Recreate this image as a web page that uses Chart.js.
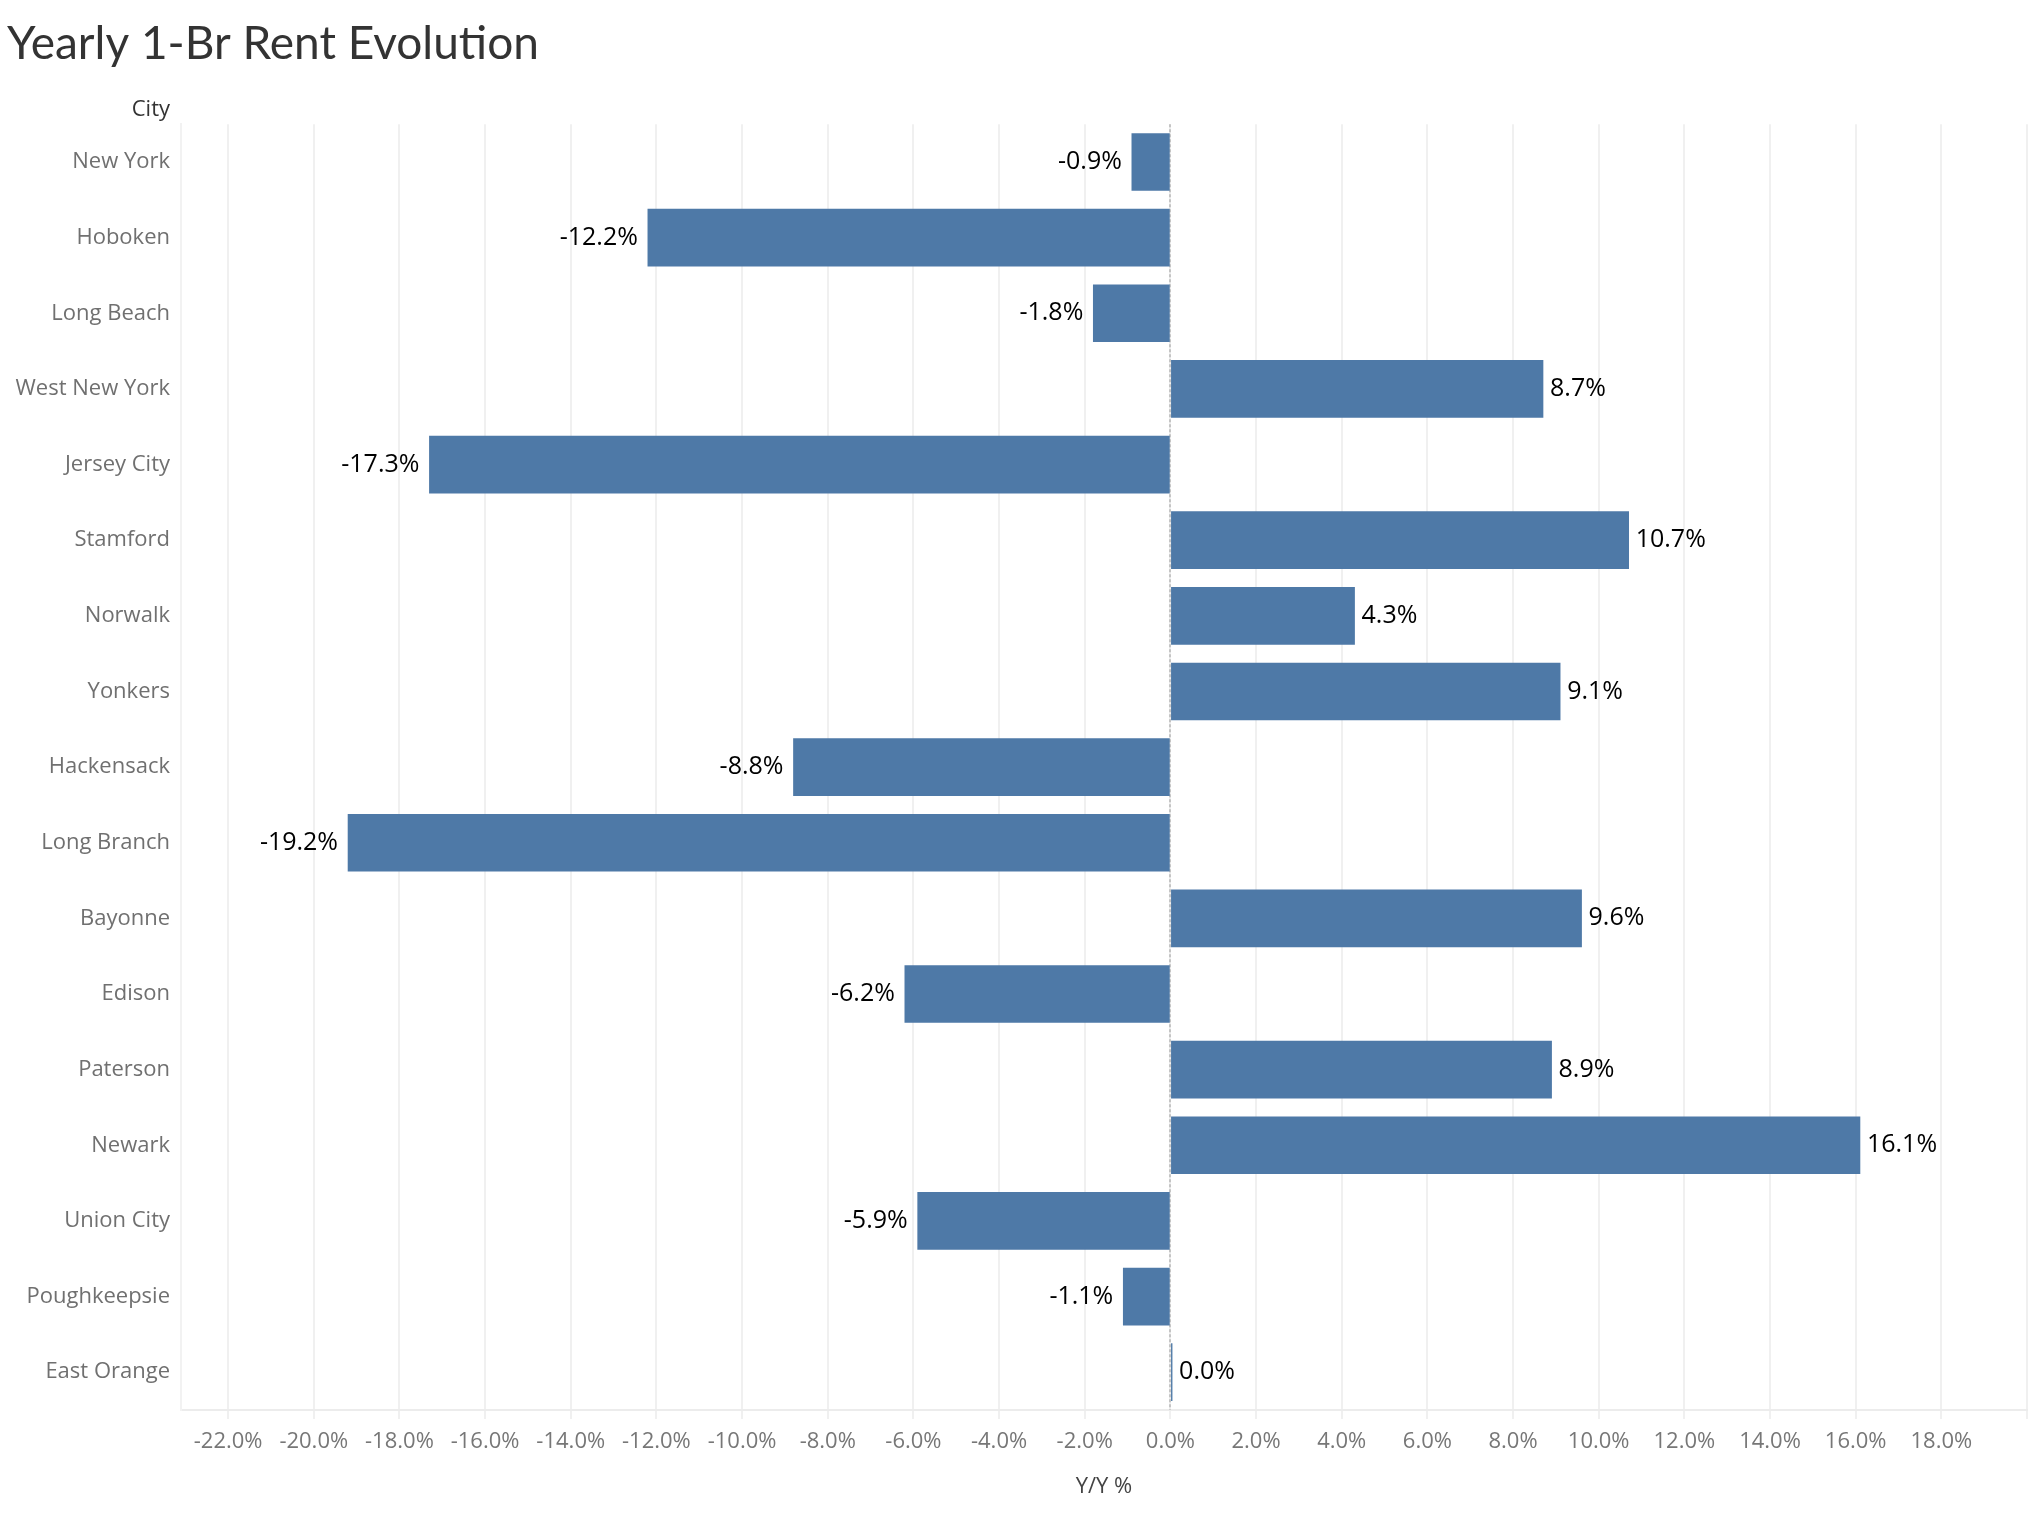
<!DOCTYPE html>
<html>
<head>
<meta charset="utf-8">
<script src="https://cdn.jsdelivr.net/npm/chart.js@4.4.1/dist/chart.umd.min.js"></script>
<style>
  html, body { margin: 0; padding: 0; background: #fff; overflow: hidden; }
  #wrap { width: 2029px; height: 1514px; position: relative; }
</style>
</head>
<body>
<div id="wrap"><canvas id="rent"></canvas></div>
<script>
// city order top to bottom, values are Y/Y % change
const cities = ["New York", "Hoboken", "Long Beach", "West New York", "Jersey City", "Stamford",
  "Norwalk", "Yonkers", "Hackensack", "Long Branch", "Bayonne", "Edison", "Paterson",
  "Newark", "Union City", "Poughkeepsie", "East Orange"];
const yoyChange = [-0.9, -12.2, -1.8, 8.7, -17.3, 10.7, 4.3, 9.1, -8.8, -19.2, 9.6, -6.2, 8.9,
  16.1, -5.9, -1.1, 0.04];
const xTicks = [-22, -20, -18, -16, -14, -12, -10, -8, -6, -4, -2, 0, 2, 4, 6, 8, 10, 12, 14, 16, 18, 20];

const labelFont = "'Open Sans', sans-serif";

// dashed line at zero + "City" header
const extras = {
  id: "extras",
  beforeDatasetsDraw(chart) {
    const { ctx, chartArea, scales } = chart;
    const x0 = Math.round(scales.x.getPixelForValue(0));
    ctx.save();
    ctx.strokeStyle = "#c4c4c4";
    ctx.lineWidth = 2;
    ctx.setLineDash([3, 2]);
    ctx.beginPath();
    ctx.moveTo(x0, chartArea.top);
    ctx.lineTo(x0, chartArea.bottom);
    ctx.stroke();
    ctx.restore();
  },
  afterDraw(chart) {
    const { ctx, chartArea } = chart;
    ctx.save();
    ctx.font = "22px " + labelFont;
    ctx.fillStyle = "#333";
    ctx.textAlign = "right";
    ctx.textBaseline = "middle";
    ctx.fillText("City", chartArea.left - 11, chartArea.top - 14);
    ctx.restore();
  }
};

// value labels at the bar ends
const valueLabels = {
  id: "valueLabels",
  afterDatasetsDraw(chart) {
    const { ctx } = chart;
    const meta = chart.getDatasetMeta(0);
    ctx.save();
    ctx.font = "25px " + labelFont;
    ctx.fillStyle = "#000";
    ctx.textBaseline = "middle";
    meta.data.forEach((bar, i) => {
      const v = yoyChange[i];
      const txt = v.toFixed(1) + "%";
      if (v < 0) {
        ctx.textAlign = "right";
        ctx.fillText(txt, bar.x - 10, bar.y);
      } else {
        ctx.textAlign = "left";
        ctx.fillText(txt, bar.x + 7, bar.y);
      }
    });
    ctx.restore();
  }
};

new Chart(document.getElementById("rent"), {
  type: "bar",
  data: {
    labels: cities,
    datasets: [{
      data: yoyChange,
      backgroundColor: "#4e79a7",
      borderWidth: 0,
      barThickness: 57
    }]
  },
  options: {
    indexAxis: "y",
    responsive: true,
    maintainAspectRatio: false,
    animation: false,
    layout: { padding: { left: 7, right: 2, top: 0, bottom: 0 } },
    plugins: {
      legend: { display: false },
      tooltip: { enabled: false },
      title: {
        display: true,
        text: "Yearly 1-Br Rent Evolution",
        align: "start",
        color: "#333",
        font: { family: "Lato, sans-serif", size: 46, weight: "normal" },
        padding: { top: 17, bottom: 52 }
      }
    },
    scales: {
      x: {
        min: -23.1,
        max: 20,
        afterBuildTicks(scale) {
          scale.ticks = xTicks.map(v => ({ value: v }));
        },
        afterFit(scale) {
          scale.height = 104;
          // no extra room for the (empty) last tick label
          scale.paddingLeft = 0;
          scale.paddingRight = 0;
        },
        grid: { color: "#f0f0f0", lineWidth: 2, tickLength: 9, tickColor: "#f0f0f0" },
        border: { color: "#ececec", width: 2 },
        ticks: {
          padding: 10,
          color: "#777",
          font: { family: labelFont, size: 22 },
          maxRotation: 0,
          autoSkip: false,
          callback: v => (v === 20 ? "" : v.toFixed(1) + "%")
        },
        title: {
          display: true,
          text: "Y/Y %",
          color: "#444",
          font: { family: labelFont, size: 22 },
          padding: { top: 16, bottom: 14 }
        }
      },
      y: {
        afterFit(scale) { scale.width = 174; },
        grid: { display: false, drawTicks: false },
        border: { color: "#f2f2f2", width: 2 },
        ticks: {
          padding: 11,
          color: "#707070",
          font: { family: labelFont, size: 22 },
          autoSkip: false
        }
      }
    }
  },
  plugins: [extras, valueLabels]
});
</script>
</body>
</html>
